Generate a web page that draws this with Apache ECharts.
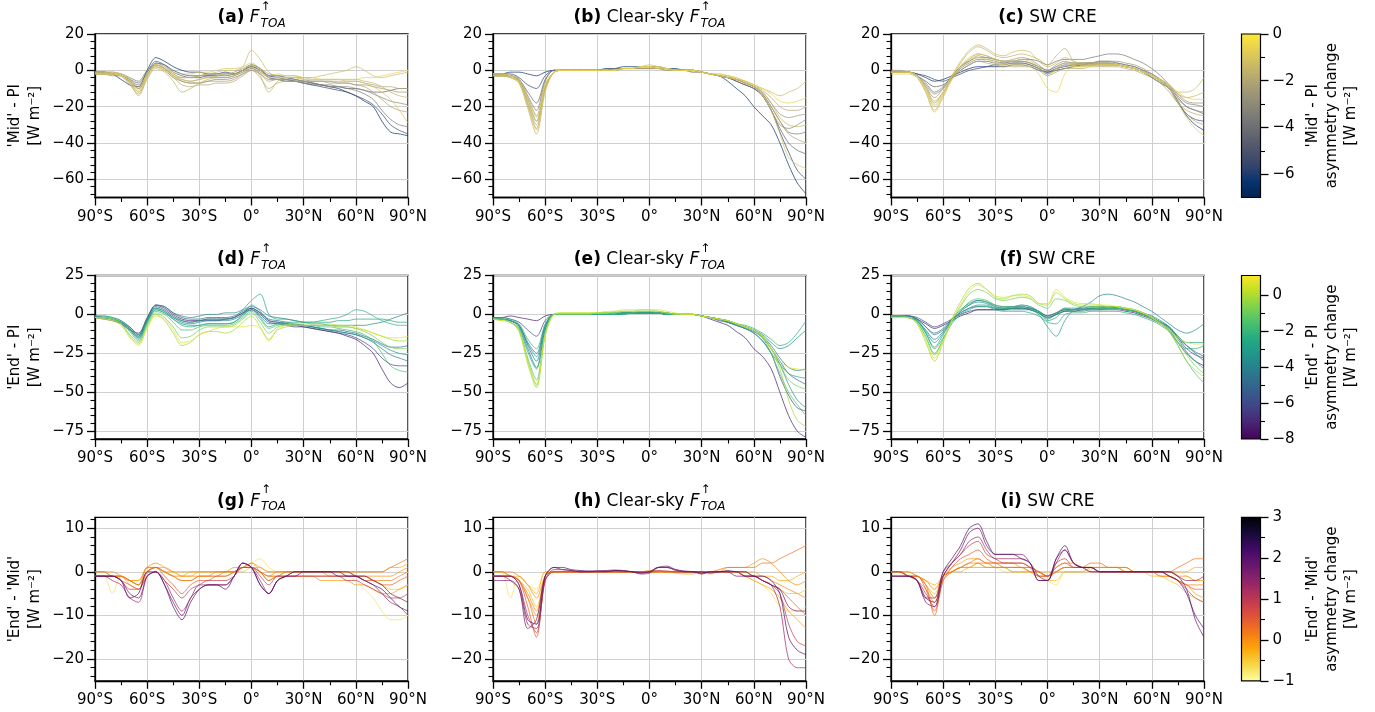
<!DOCTYPE html>
<html><head><meta charset="utf-8">
<script src="https://cdn.jsdelivr.net/npm/echarts@6/dist/echarts.min.js"></script>
<style>html,body{margin:0;padding:0;background:#fff}#c{width:1375px;height:712px}</style>
</head><body><div id="c"></div>
<script>
// ---------------- DATA ----------------
const LAT = [-90,-85,-80,-75,-70,-65,-60,-55,-50,-45,-40,-35,-30,-25,-20,-15,-10,-5,0,5,10,15,20,25,30,35,40,45,50,55,60,65,70,75,80,85,90];
const LAT_TICKS = [-90,-60,-30,0,30,60,90];

// asymmetry change of each model (colour value), one list per row
const ASYM_MID_PI  = [-6.3,-5.5,-4.4,-3.6,-3.0,-2.6,-2.2,-1.9,-1.6,-1.3,-1.0,-0.6];
const ASYM_END_PI  = [-7.2,-6.0,-5.0,-4.3,-3.7,-3.2,-2.7,-2.2,-1.6,-0.9,-0.2,0.6];
const ASYM_END_MID = [2.0,1.7,1.3,0.9,0.5,0.25,0.1,0.0,-0.1,-0.25,-0.4,-0.7];

// y tick labels per row
const YTICKS_ROW1 = [-60,-40,-20,0,20];
const YTICKS_ROW2 = [-75,-50,-25,0,25];
const YTICKS_ROW3 = [-20,-10,0,10];
const CB_TICKS_ROW1 = [-6,-4,-2,0];
const CB_TICKS_ROW2 = [-8,-6,-4,-2,0];
const CB_TICKS_ROW3 = [-1,0,1,2,3];

// (a) 'Mid' - PI, F TOA
const A_TOA = [
[-1,-1,-2,-5,-8,-9, 0,7,5,2,0,-1, -1,-2,-2,-1,-2,0, 3, 1,-3,-3,-4,-5,-6, -7,-8,-9,-10,-12,-14, -17,-20,-28,-34,-35,-36],
[-1,-1,-2,-3,-6,-10, -3,4,3,0,-2,-3, -3,-3,-3,-2,-2,0, 2, 0,-3,-4,-5,-6,-7, -8,-9,-10,-11,-12,-14, -16,-19,-24,-30,-33,-35],
[-2,-2,-2,-3,-5,-7, -1,5,3,-1,-3,-4, -4,-3,-3,-3,-2,0, 2, 0,-4,-5,-6,-6,-7, -8,-8,-9,-9,-10,-10, -11,-12,-12,-11,-10,-10],
[-1,-1,-1,-2,-4,-6, 0,3,1,-3,-5,-6, -5,-4,-4,-4,-3,-1, 1, -1,-4,-5,-5,-6,-6, -7,-8,-8,-9,-10,-11, -13,-16,-22,-27,-30,-31],
[-2,-2,-3,-3,-6,-8, -2,2,0,-4,-6,-7, -7,-6,-5,-5,-4,-2, 0, -2,-5,-5,-6,-6,-7, -7,-8,-9,-9,-9,-10, -11,-13,-15,-17,-18,-19],
[-1,-1,-2,-2,-5,-9, -2,4,2,-2,-4,-4, -3,-2,-2,-2,-1,1, 3, 1,-2,-3,-4,-4,-5, -6,-6,-6,-7,-7,-8, -8,-9,-10,-11,-12,-12],
[-1,-1,-2,-3,-7,-12, -3,3,1,-3,-6,-7, -7,-6,-6,-6,-5,-2, 1, -2,-6,-5,-5,-5,-6, -6,-6,-7,-7,-7,-8, -9,-12,-16,-20,-22,-23],
[-2,-2,-2,-3,-8,-13, -4,2,0,-4,-8,-9, -8,-8,-7,-7,-6,-3, 0, -4,-10,-7,-6,-6,-6, -6,-6,-6,-6,-6,-6, -7,-8,-9,-9,-10,-10],
[-1,-1,-2,-3,-7,-14, -5,1,-1,-6,-12,-10, -7,-5,-4,-4,-3,-1, 2, -3,-12,-6,-4,-4,-4, -5,-5,-5,-5,-5,-5, -6,-7,-9,-12,-14,-15],
[-2,-2,-2,-3,-6,-11, -3,3,1,-2,-4,-4, -3,-2,-1,0,0,2, 11, 6,-1,-3,-3,-3,-4, -4,-3,-2,-1,0,2, 0,-3,-4,-3,-2,-1],
[-1,-1,-1,-2,-5,-10, -2,3,2,-1,-2,-2, -1,-1,0,1,1,2, 4, 1,-3,-2,-3,-3,-4, -4,-5,-5,-5,-6,-6, -7,-9,-12,-16,-22,-29],
[-2,-2,-2,-3,-6,-12, -3,2,0,-3,-5,-6, -5,-4,-3,-2,-2,0, 3, 0,-4,-4,-4,-4,-5, -5,-5,-5,-5,-5,-5, -4,-4,-3,-2,-1,0]
];
// (b) 'Mid' - PI, clear-sky
const B_CLR = [
[-2,-2,-1,-1,-2,-3, -1,0,0,0,0,0, 0,1,1,2,2,2, 2, 2,1,1,0,0,-1, -2,-3,-6,-10,-14,-20, -25,-30,-40,-52,-62,-68],
[-2,-2,-2,-4,-8,-10, -3,0,0,0,0,0, 0,0,1,1,1,1, 1, 1,1,0,0,0,-1, -2,-3,-4,-6,-8,-10, -14,-22,-34,-45,-55,-60],
[-3,-3,-3,-5,-12,-18, -5,0,0,0,0,0, 0,0,0,1,1,1, 1, 1,1,0,0,0,-1, -2,-3,-4,-6,-8,-10, -14,-22,-32,-40,-44,-46],
[-2,-2,-3,-5,-14,-22, -6,0,0,0,0,0, 0,0,1,1,1,1, 1, 1,1,0,0,0,-1, -2,-3,-4,-5,-7,-9, -13,-20,-28,-34,-35,-34],
[-3,-3,-3,-6,-15,-25, -8,-1,0,0,0,0, 0,0,0,1,1,1, 1, 1,1,0,0,-1,-1, -2,-3,-4,-5,-7,-9, -14,-22,-30,-32,-30,-27],
[-2,-2,-3,-5,-16,-28, -9,-1,0,0,0,0, 0,0,0,1,1,1, 1, 1,0,0,0,-1,-1, -2,-3,-4,-5,-7,-9, -12,-18,-24,-26,-25,-24],
[-3,-3,-4,-6,-19,-32, -10,-1,0,0,0,0, 0,0,0,1,1,1, 1, 1,0,0,0,0,-1, -2,-3,-4,-5,-7,-9, -13,-20,-28,-35,-38,-40],
[-2,-2,-3,-6,-18,-30, -10,-1,0,0,0,0, 0,0,0,1,1,2, 2, 1,1,0,0,0,-1, -2,-3,-4,-5,-6,-8, -11,-15,-20,-22,-22,-20],
[-3,-3,-4,-7,-21,-35, -12,-1,0,0,0,0, 0,0,0,1,1,2, 2, 1,1,0,0,0,-1, -2,-3,-3,-5,-6,-8, -12,-18,-26,-30,-31,-30],
[-2,-2,-3,-6,-17,-28, -8,-1,0,0,0,0, 0,0,0,1,1,2, 3, 2,1,0,0,0,-1, -2,-2,-3,-4,-6,-8, -10,-12,-14,-12,-10,-6],
[-3,-3,-4,-7,-20,-33, -11,-1,0,0,0,0, 0,0,0,1,1,2, 2, 1,1,0,0,0,-1, -2,-3,-4,-5,-7,-9, -14,-22,-35,-48,-52,-54],
[-2,-2,-3,-5,-15,-26, -8,-1,0,0,0,0, 0,0,0,1,1,2, 2, 2,1,0,0,0,-1, -2,-2,-3,-4,-6,-8, -10,-13,-17,-18,-17,-15]
];
// (c) 'Mid' - PI, SW CRE
const C_CRE = [
[-1,-1,-1,-2,-4,-6, -5,-3,-1,1,2,2, 2,2,3,3,2,0, -1, 0,1,2,3,3,3, 3,3,2,1,-1,-4, -7,-10,-17,-25,-30,-33],
[-1,-1,-1,-2,-3,-5, -6,-4,-2,0,1,2, 3,3,4,4,3,1, -1, 1,2,3,3,4,4, 4,3,2,1,-1,-3, -6,-10,-18,-24,-27,-28],
[-1,-1,-1,-3,-6,-9, -8,-4,0,3,5,5, 4,4,5,5,4,2, 0, 2,4,4,4,4,5, 5,4,3,2,0,-2, -5,-9,-15,-20,-22,-24],
[-1,-1,-1,-3,-7,-12, -9,-3,2,5,7,7, 6,5,5,6,6,5, 3, 5,6,6,6,7,8, 9,9,8,6,4,1, -3,-8,-14,-18,-19,-20],
[-1,-1,-1,-3,-8,-13, -10,-4,1,4,6,6, 5,4,4,4,3,1, -2, 1,3,3,4,4,4, 4,4,3,2,0,-3, -6,-10,-16,-20,-22,-23],
[0,0,-1,-3,-9,-15, -10,-3,2,5,8,7, 6,5,6,7,6,3, 0, 3,5,4,4,4,5, 5,5,4,3,1,-2, -5,-8,-13,-17,-18,-18],
[-1,-1,-1,-3,-10,-18, -12,-4,2,6,9,8, 6,5,5,5,4,2, -2, 0,3,2,2,3,3, 3,3,2,1,-1,-3, -6,-10,-17,-24,-28,-30],
[-1,-1,-1,-3,-9,-17, -12,-5,0,3,5,4, 3,2,2,2,2,0, -3, -1,1,1,1,2,2, 2,2,1,0,-2,-4, -7,-12,-18,-22,-24,-25],
[-1,-1,-1,-4,-12,-22, -14,-4,4,10,13,11, 8,7,8,9,8,6, 3, 8,12,5,3,3,3, 3,3,2,1,-1,-3, -6,-9,-13,-15,-14,-12],
[-1,-1,-1,-3,-11,-20, -13,-3,5,11,14,12, 9,8,10,11,10,5, 2, 4,7,5,4,4,4, 4,3,2,1,-1,-3, -6,-9,-12,-12,-10,-4],
[-2,-2,-2,-4,-12,-23, -15,-5,2,7,9,8, 6,5,5,6,5,2, -3, 1,4,3,3,3,3, 3,3,2,1,-1,-3, -6,-10,-18,-26,-32,-36],
[-1,-1,-1,-3,-10,-19, -12,-3,3,6,7,6, 4,3,3,3,2,-2, -10, -12,-2,2,2,2,3, 3,3,2,1,-1,-3, -5,-8,-12,-15,-16,-16]
];
// (d) 'End' - PI, F TOA
const D_TOA = [
[-2,-3,-4,-6,-10,-12, -2,6,4,0,-3,-4, -4,-3,-3,-3,-2,1, 4, 1,-4,-5,-6,-7,-8, -9,-10,-11,-12,-14,-16, -20,-25,-35,-44,-47,-44],
[-2,-2,-3,-5,-9,-14, -3,5,3,-1,-4,-5, -4,-4,-4,-3,-2,1, 3, 0,-5,-6,-7,-8,-8, -9,-10,-11,-12,-13,-15, -18,-22,-28,-32,-33,-33],
[-1,-2,-3,-5,-8,-13, -3,6,5,1,-2,-3, -3,-2,-2,-2,-1,2, 4, 1,-3,-4,-5,-6,-7, -8,-9,-10,-10,-11,-12, -14,-16,-19,-21,-21,-20],
[-2,-2,-3,-6,-10,-15, -4,4,2,-2,-5,-6, -5,-4,-4,-4,-3,0, 3, -1,-6,-6,-6,-7,-7, -8,-9,-10,-11,-12,-13, -15,-18,-22,-26,-28,-30],
[-1,-1,-2,-4,-8,-13, -3,6,5,1,-1,-2, -1,0,0,1,1,3, 5, 3,-1,-2,-3,-4,-5, -6,-6,-7,-7,-7,-7, -7,-6,-5,-3,-1,1],
[-2,-2,-3,-5,-10,-16, -5,3,1,-3,-6,-7, -7,-6,-6,-6,-5,0, 6, 2,-4,-5,-6,-7,-7, -8,-9,-10,-11,-12,-13, -15,-17,-20,-23,-25,-26],
[-1,-2,-3,-5,-9,-14, -4,4,2,-2,-4,-5, -4,-3,-3,-3,-2,3, 9, 13,0,-3,-3,-4,-5, -5,-5,-5,-4,-4,-3, -3,-3,-3,-4,-5,-5],
[-1,-1,-2,-4,-9,-15, -5,3,1,-3,-7,-8, -7,-6,-6,-6,-5,-1, 3, -2,-8,-6,-5,-5,-5, -5,-4,-3,-2,0,3, 2,-1,-4,-6,-7,-7],
[-2,-2,-3,-5,-11,-17, -6,2,0,-5,-10,-10, -8,-7,-7,-7,-6,-2, 2, -3,-9,-7,-6,-6,-7, -7,-8,-8,-9,-10,-11, -13,-17,-25,-33,-36,-37],
[-2,-2,-3,-6,-13,-18, -7,1,-2,-8,-15,-14, -10,-8,-8,-8,-7,-3, 1, -5,-12,-8,-7,-7,-7, -7,-7,-7,-8,-8,-9, -11,-14,-18,-21,-22,-22],
[-2,-2,-3,-6,-14,-19, -8,0,-4,-12,-20,-18, -13,-11,-11,-12,-10,-5, -1, -8,-16,-10,-8,-7,-7, -7,-7,-7,-8,-8,-9, -10,-12,-14,-16,-17,-17],
[-2,-3,-4,-7,-15,-20, -9,-1,-3,-10,-18,-17, -13,-11,-9,-8,-8,-8, -7, -9,-17,-9,-7,-6,-6, -6,-6,-6,-7,-7,-8, -10,-12,-14,-15,-15,-14]
];
// (e) 'End' - PI, clear-sky
const E_CLR = [
[-2,-2,-1,-2,-3,-4, -1,0,0,0,0,0, 0,0,0,1,1,1, 1, 1,1,0,0,0,-1, -3,-5,-7,-11,-15,-22, -27,-35,-50,-65,-75,-79],
[-2,-2,-3,-5,-10,-14, -4,0,0,0,0,0, 0,0,0,1,1,1, 1, 1,0,0,0,0,-1, -2,-4,-5,-7,-9,-12, -17,-25,-40,-52,-60,-62],
[-3,-3,-4,-7,-18,-25, -7,0,0,0,0,0, 0,0,0,1,1,1, 1, 1,0,0,0,0,-1, -2,-3,-5,-7,-9,-11, -15,-22,-30,-38,-42,-45],
[-2,-3,-4,-7,-20,-30, -8,0,0,0,0,0, 0,0,0,0,1,1, 1, 1,0,0,0,0,-1, -2,-3,-5,-6,-8,-10, -14,-20,-28,-34,-36,-35],
[-3,-3,-4,-8,-22,-34, -10,0,0,0,0,0, 0,0,1,1,1,1, 1, 1,0,0,0,0,-1, -2,-3,-4,-6,-8,-10, -13,-18,-22,-20,-15,-10],
[-2,-3,-4,-7,-19,-27, -8,0,0,0,0,0, 0,0,0,1,1,1, 1, 1,0,0,0,0,-1, -2,-3,-4,-6,-8,-10, -14,-22,-32,-45,-55,-60],
[-3,-3,-5,-9,-24,-35, -10,0,0,0,0,0, 0,0,0,1,1,1, 1, 1,0,0,0,0,-1, -2,-3,-5,-7,-9,-12, -17,-25,-32,-38,-40,-41],
[-2,-2,-3,-6,-16,-22, -6,0,0,0,0,0, 0,0,0,0,1,1, 1, 1,0,0,0,0,-1, -2,-3,-4,-6,-7,-9, -12,-16,-20,-18,-12,-4],
[-3,-3,-5,-10,-28,-42, -12,0,0,0,0,0, 1,1,1,1,1,2, 2, 1,1,0,0,0,-1, -2,-3,-4,-6,-8,-10, -15,-25,-38,-50,-58,-65],
[-3,-3,-5,-10,-30,-45, -13,0,0,0,0,0, 1,1,1,2,2,2, 2, 2,1,0,0,0,-1, -2,-3,-4,-6,-8,-10, -14,-22,-32,-42,-46,-48],
[-3,-4,-5,-11,-32,-47, -14,0,1,1,1,1, 1,1,2,2,2,3, 3, 2,1,0,0,0,-1, -2,-3,-4,-6,-8,-10, -14,-22,-35,-55,-68,-72],
[-3,-4,-5,-10,-30,-46, -13,0,1,1,1,1, 1,2,2,3,3,3, 3, 3,2,1,0,0,-1, -2,-3,-4,-6,-8,-10, -14,-22,-30,-34,-35,-36]
];
// (f) 'End' - PI, SW CRE
const F_CRE = [
[-1,-1,-1,-3,-6,-9, -7,-4,-1,1,3,3, 3,3,4,4,3,1, -2, 0,2,2,3,3,3, 3,3,2,1,-1,-3, -6,-10,-18,-25,-30,-33],
[-1,-1,-1,-2,-5,-8, -6,-3,0,2,3,3, 3,3,4,4,4,2, -1, 1,3,3,3,4,4, 4,4,3,2,0,-2, -5,-8,-15,-22,-26,-28],
[-1,-1,-1,-3,-8,-12, -9,-3,1,4,5,5, 4,4,5,5,4,2, -1, 1,3,3,4,4,4, 5,4,3,2,0,-2, -5,-9,-15,-20,-24,-27],
[-1,-1,-2,-4,-10,-16, -11,-3,3,7,9,8, 6,5,5,6,5,2, -3, 0,4,4,4,5,5, 5,5,4,3,1,-1, -4,-8,-14,-20,-25,-30],
[-1,-1,-1,-3,-8,-13, -10,-4,1,4,6,6, 4,3,3,3,3,1, -2, 0,2,3,5,8,12, 13,12,10,8,5,2, -2,-6,-10,-12,-10,-6],
[-1,-1,-2,-4,-11,-18, -12,-4,2,6,8,7, 5,4,4,4,3,0, -8, -14,-4,2,2,3,3, 4,4,3,2,0,-2, -5,-9,-16,-24,-30,-35],
[-1,-1,-2,-4,-12,-21, -13,-4,2,6,9,8, 5,4,4,5,4,1, -4, -2,3,3,3,4,4, 4,4,3,2,0,-2, -5,-8,-14,-18,-18,-18],
[-1,-1,-2,-4,-12,-22, -15,-6,0,3,5,5, 3,2,2,2,1,-1, -5, -6,0,1,1,2,2, 2,2,1,0,-2,-4, -7,-11,-18,-22,-22,-20],
[-1,-1,-2,-5,-14,-25, -16,-5,2,8,10,9, 6,5,5,6,5,2, -2, 1,4,3,3,3,4, 4,4,3,2,0,-3, -6,-11,-20,-30,-38,-44],
[-1,-1,-2,-5,-15,-26, -16,-4,5,13,16,14, 10,9,10,11,10,6, 4, 10,9,6,5,5,5, 5,5,4,3,1,-2, -5,-10,-18,-26,-33,-38],
[-2,-2,-2,-6,-18,-30, -18,-3,8,17,20,16, 11,10,12,13,12,7, 6, 14,10,7,6,6,6, 5,5,4,3,1,-2, -6,-11,-20,-30,-36,-40],
[-2,-2,-2,-6,-17,-28, -17,-4,6,15,19,16, 12,11,12,12,11,7, 7, 16,11,8,7,7,6, 6,5,4,3,1,-2, -6,-10,-15,-18,-19,-19]
];
// (g) 'End' - 'Mid', F TOA
const G_TOA = [
[-1,-1,-1,-2,-6,-5, 0,0,-3,-8,-11,-7, -4,-3,-3,-4,-1,2, 1, -3,-5,-2,-1,0,0, 0,0,0,-1,-1,-1, -2,-3,-4,-6,-8,-9],
[-1,-1,-1,-2,-5,-6, -1,0,-3,-7,-10,-6, -4,-3,-3,-3,-1,2, 1, -3,-5,-2,-1,-1,0, 0,0,0,0,-1,-1, -1,-2,-3,-5,-6,-7],
[-1,-1,-2,-3,-6,-7, -1,0,-2,-6,-9,-6, -3,-3,-3,-3,-1,2, 1, -2,-5,-2,-1,0,0, 0,0,0,0,0,-1, -2,-3,-5,-7,-8,-10],
[-1,-1,-1,-2,-4,-4, -1,0,-2,-4,-6,-4, -3,-2,-2,-2,-1,1, 1, -1,-3,-1,-1,-1,-1, -1,-1,-1,-1,-2,-2, -3,-4,-5,-6,-6,-5],
[-1,-1,-1,-2,-3,-4, 0,1,-1,-3,-5,-3, -2,-2,-1,-1,0,1, 1, 0,-2,-1,-1,-1,-1, -1,-1,-1,-1,-1,-1, -2,-2,-3,-3,-2,-1],
[0,0,-1,-1,-2,-3, 1,1,0,-1,-2,-2, -1,-1,-1,0,0,1, 1, 0,-1,-1,0,0,0, 0,0,0,0,0,0, 0,0,0,1,2,3],
[-1,-1,-1,-1,-2,-3, 0,1,0,-1,-1,-1, -1,-1,0,0,0,1, 1, 0,-1,0,0,0,0, 0,0,-1,-1,-1,-1, -1,-2,-2,-2,-1,0],
[0,0,0,-1,-2,-2, 1,2,1,0,0,0, 0,0,0,0,1,1, 2, 1,0,0,0,0,0, 0,0,0,0,0,-1, -1,-1,-1,-1,0,1],
[-1,-1,-1,-1,-3,-4, 0,1,0,-1,-2,-2, -1,-1,-1,-1,0,1, 2, 0,-2,-1,-1,-1,-1, -1,-2,-2,-2,-2,-3, -3,-4,-5,-5,-4,-3],
[0,0,-1,-1,-2,-3, 0,1,1,0,-1,-1, 0,0,0,0,0,1, 1, 0,-1,-1,0,0,0, 0,0,0,0,0,0, 0,0,0,1,1,2],
[-1,-1,-1,-1,-2,-2, 1,1,0,0,-1,0, 0,0,0,0,0,0, 1, 1,0,0,0,0,0, 0,0,0,0,0,-1, -1,-2,-3,-4,-4,-3],
[-1,-1,-5,-1,-2,-3, 0,1,0,0,-1,0, 0,0,0,0,0,1, 2, 3,1,0,0,0,0, 0,0,0,0,-1,-2, -4,-6,-9,-11,-11,-10]
];
// (h) 'End' - 'Mid', clear-sky
const H_CLR = [
[-1,-1,-1,-3,-11,-12, -1,1,1,0.5,0.3,0.2, 0.2,0.1,0.3,0.2,0,-0.3, 0, 1,1,0.5,0.2,0,-0.3, 0,0,0.3,0,0,-1, -1,-2,-5,-15,-18,-19],
[-2,-2,-2,-4,-13,-11, -1,1,0.5,0.3,0,0, 0.2,0.3,0.4,0.3,0,-0.5, -0.3, 1,1.3,0.5,0,0,0, -0.3,0,0,-1,-1,-1, -2,-3,-4,-8,-9,-9],
[-1,-1,-2,-4,-12,-13, -2,0.5,0.5,0.3,0,0, 0,0,0.3,0.2,0,-0.2, 0, 1,1,0.3,0,0,-0.5, 0,0,0,0,-1,-1, -2,-3,-8,-20,-22,-22],
[-1,-1,-1,-3,-10,-14, -2,0,0,0,0,0, 0,0,0,0,0,0, 0, 0.3,0.2,0,0,0,0, 0,0,0,0,-1,-1, -2,-3,-5,-12,-16,-17],
[-1,-1,-1,-2,-8,-15, -2,0,0,0,0,0, 0,0,0,0,0,0, 0, 0,0,0,0,0,-0.3, 0,0,0,0,-1,-1, -2,-3,-4,-6,-8,-10],
[0,0,-1,-2,-6,-12, -1,0,0,0,0,0, 0,0,0,0,0,0, 0, 0,0,0,0,0,0, 0,0.5,1,1,1,1, 2,2,3,4,5,6],
[-1,-1,-1,-2,-5,-9, -1,0,0,0,0,0, 0,0,0,0,0,0, 0.3, 0.2,0,0,0,0,-0.5, 0,0,0,0,0,-1, -1,-2,-3,-4,-5,-6],
[0,0,0,-1,-3,-6, -1,0,0,0,0,0, 0,0,0,0,0,0, 0, 0,0,0,0,0,0, 0,0,1,1,1,2, 3,2,0,-2,-3,-2],
[-1,-1,-1,-2,-6,-10, -1,0,0,0,0,0, 0,0,0,0,0,0, 0, 0,0,0,0,0,0, -0.5,0,0,0,-1,-2, -3,-4,-6,-9,-11,-13],
[0,0,-1,-1,-3,-5, 0,0,0,0,0,0, 0,0,0,0,0,-0.3, 0, 0,0,-0.3,-0.5,-0.5,0, 0,0,0,0,0,0, -1,-1,-2,-2,-1,0],
[-1,-1,-1,-2,-4,-8, -1,0,0,0,0,0, 0,0,0,0,0,0, 0, 0,0,0,0,0,0, 0,0,0,0,0,-1, -2,-3,-4,-5,-5,-4],
[0,0,-6,-1,-3,-4, 0,0,0,0,0,0, 0,0,0,0,0,0, 0, 0,0,0,0,0,0, 0,0,0,0,-1,-2, -3,-5,-8,-9,-9,-8]
];
// (i) 'End' - 'Mid', SW CRE
const I_CRE = [
[-1,-1,-1,-2,-6,-7, 0,3,6,10,11,7, 4,4,4,3,2,-2, -2, 3,6,2,1,1,0, 0,0,0,0,0,0, 0,-1,-2,-5,-10,-13],
[-1,-1,-1,-2,-7,-8, -1,2,5,9,10,6, 4,4,4,4,2,-2, -2, 3,5,2,1,1,0, 0,0,0,0,0,0, 0,0,-1,-4,-11,-15],
[-1,-1,-1,-2,-6,-6, 0,2,4,7,8,5, 3,3,3,3,2,-1, -2, 2,5,2,1,0,0, 0,0,0,0,0,0, 0,0,-1,-2,-2,-1],
[0,0,-1,-2,-5,-8, -1,2,4,6,7,4, 3,2,2,2,1,-1, -1, 2,3,1,1,0,0, 0,0,0,0,0,0, 0,-1,-2,-4,-6,-7],
[0,0,-1,-1,-4,-9, -2,1,3,4,5,3, 2,2,2,2,1,0, -1, 1,2,1,1,1,0, 0,0,0,0,0,0, 0,-1,-2,-3,-4,-4],
[0,0,-1,-1,-3,-10, -2,0,1,2,3,2, 2,1,1,1,1,0, -1, 0,1,1,1,2,2, 1,1,1,0,0,0, 0,0,1,2,3,3],
[0,0,-1,-1,-3,-6, -1,0,1,2,2,2, 1,1,1,1,0,-1, -1, 0,1,1,1,1,1, 1,1,0,0,0,0, -1,-1,-2,-3,-3,-3],
[0,0,0,-1,-2,-4, -1,0,1,1,2,1, 1,1,1,1,0,0, -1, 0,1,1,1,1,0, 0,0,0,0,0,0, 0,0,-1,-1,-2,-2],
[0,0,-1,-2,-4,-7, -1,1,2,3,3,2, 2,2,2,1,1,0, -1, 1,2,2,1,1,1, 1,1,1,0,0,0, -1,-1,-2,-3,-5,-6],
[0,0,0,-1,-2,-3, -1,0,0,1,1,1, 1,1,0,0,0,0, 0, 0,0,0,0,1,1, 1,1,0,0,0,0, 0,0,0,0,1,1],
[0,0,-1,-1,-3,-5, -1,0,1,1,2,1, 1,1,0,0,0,-1, -2, -2,0,0,0,0,0, 0,0,0,0,0,-1, -1,-2,-3,-5,-6,-7],
[0,0,0,-1,-2,-4, -1,0,1,1,1,1, 1,0,0,0,0,0, -2, -3,0,0,0,1,1, 1,1,1,0,0,0, 0,0,0,-1,-2,-2]
];

// ---------------- COLORMAPS ----------------
const CIVIDIS = ['#00224e','#083370','#35456c','#4f556c','#666970','#7d7c78','#948f78','#aea373','#c8b866','#e5cf52','#fee838'];
const VIRIDIS = ['#440154','#482475','#414487','#355f8d','#2a788e','#21918c','#22a884','#44bf70','#7ad151','#bddf26','#fde725'];
const INFERNO = ['#000004','#160b39','#420a68','#6a176e','#932667','#bc3754','#dd513a','#f37819','#fca50a','#f6d746','#fcffa4'];
function hx(h){return [parseInt(h.slice(1,3),16),parseInt(h.slice(3,5),16),parseInt(h.slice(5,7),16)];}
function cmap(stops,t){
  t=Math.max(0,Math.min(1,t));
  const p=t*(stops.length-1), i=Math.min(Math.floor(p),stops.length-2), f=p-i;
  const a=hx(stops[i]), b=hx(stops[i+1]);
  return 'rgb('+a.map((v,k)=>Math.round(v+(b[k]-v)*f)).join(',')+')';
}

// ---------------- LAYOUT ----------------
const FONT='DejaVu Sans';
const COL_LEFT=[95,493,891], PW=313, PH=163.5;
const CB_LEFT=1241.5, CB_W=19;
const ROWS=[
 {top:34, min:-70, max:20, ticks:YTICKS_ROW1, minorStep:4, asym:ASYM_MID_PI, cm:CIVIDIS, vmin:-7, vmax:0, rev:false,
  cbTicks:CB_TICKS_ROW1, cbMinor:[-5,-3,-1], lab:"'Mid' - PI", panels:[A_TOA,B_CLR,C_CRE], letters:['(a)','(b)','(c)']},
 {top:275.5, min:-80, max:25, ticks:YTICKS_ROW2, minorStep:5, asym:ASYM_END_PI, cm:VIRIDIS, vmin:-8, vmax:1.07, rev:false,
  cbTicks:CB_TICKS_ROW2, cbMinor:[-7,-5,-3,-1], lab:"'End' - PI", panels:[D_TOA,E_CLR,F_CRE], letters:['(d)','(e)','(f)']},
 {top:517.3, min:-25, max:12.5, ticks:YTICKS_ROW3, minorStep:2, asym:ASYM_END_MID, cm:INFERNO, vmin:-1, vmax:3, rev:true,
  cbTicks:CB_TICKS_ROW3, cbMinor:[-0.5,0.5,1.5,2.5], lab:"'End' - 'Mid'", panels:[G_TOA,H_CLR,I_CRE], letters:['(g)','(h)','(i)']}
];
const NAMES=['','Clear-sky','SW CRE'];
const HASF=[true,true,false];

const numFmt=v=>(v<0?'\u2212':'')+Math.abs(v);
const latFmt=v=>v===0?'0°':Math.abs(v)+'°'+(v<0?'S':'N');
function colorOf(row,v){let t=(v-row.vmin)/(row.vmax-row.vmin); if(row.rev)t=1-t; return cmap(row.cm,t);}

const grids=[],xAxes=[],yAxes=[],series=[],graphics=[];
const tickLine={color:'#000',width:1.3};
const lblStyle={color:'#000',fontSize:15,fontFamily:FONT};

const cv=document.createElement('canvas').getContext('2d');
function tw(t,f){cv.font=f;return cv.measureText(t).width;}

ROWS.forEach((row,r)=>{
  const minors=[];
  for(let v=Math.ceil(row.min/row.minorStep)*row.minorStep; v<=row.max+1e-9; v+=row.minorStep){
    if(!row.ticks.some(t=>Math.abs(t-v)<1e-9)) minors.push(+v.toFixed(3));
  }
  const order=row.asym.map((v,i)=>i).sort((a,b)=>row.asym[a]-row.asym[b]);
  for(let c=0;c<3;c++){
    const gi=grids.length;
    grids.push({left:COL_LEFT[c],top:row.top,width:PW,height:PH,show:true,borderColor:'#000',borderWidth:1.3,backgroundColor:'rgba(0,0,0,0)'});
    xAxes.push({gridIndex:gi,type:'value',min:-90,max:90,interval:30,
      axisLine:{show:true,onZero:false,lineStyle:tickLine},
      axisTick:{show:true,length:8,lineStyle:tickLine},
      minorTick:{show:true,splitNumber:2,length:4.5,lineStyle:{color:'#000',width:1.1}},
      axisLabel:Object.assign({formatter:latFmt,margin:12,showMinLabel:true,showMaxLabel:true,hideOverlap:false},lblStyle),
      splitLine:{show:true,lineStyle:{color:'#cfcfcf',width:1}}});
    const yi=yAxes.length;
    yAxes.push({gridIndex:gi,type:'value',min:row.min,max:row.max,position:'left',
      axisLine:{show:true,onZero:false,lineStyle:tickLine},
      axisTick:{show:true,length:8,customValues:row.ticks,lineStyle:tickLine},
      axisLabel:Object.assign({formatter:numFmt,margin:11,customValues:row.ticks},lblStyle),
      splitLine:{show:true,lineStyle:{color:'#cfcfcf',width:1}}});
    yAxes.push({gridIndex:gi,type:'value',min:row.min,max:row.max,position:'left',
      axisLine:{show:false,onZero:false},axisLabel:{show:false},splitLine:{show:false},
      axisTick:{show:true,length:4.5,customValues:minors,lineStyle:{color:'#000',width:1.1}}});
    const data=row.panels[c];
    order.forEach(m=>{
      series.push({type:'line',xAxisIndex:gi,yAxisIndex:yi,smooth:0.3,symbol:'none',silent:true,
        lineStyle:{width:0.9,color:colorOf(row,row.asym[m]),opacity:0.8},
        data:LAT.map((la,k)=>[la,data[m][k]])});
    });
    // title
    const cx=COL_LEFT[c]+PW/2, cy=row.top-16, FS=17, SUB=12;
    const fB=`bold ${FS}px "${FONT}"`, fN=`${FS}px "${FONT}"`, fI=`italic ${FS}px "${FONT}"`, fSI=`italic ${SUB}px "${FONT}"`, fS=`${SUB}px "${FONT}"`;
    const wL=tw(row.letters[c],fB), wSp=tw(' ',fN);
    const nm=NAMES[c]; const wN=nm?tw(nm,fN)+(HASF[c]?wSp:0):0;
    const wF=HASF[c]?tw('F',fI):0;
    const wS=HASF[c]?Math.max(tw('TOA',fSI),tw('\u2191',fS))+1:0;
    let x=cx-(wL+wSp+wN+wF+wS)/2;
    const txt=(t,xx,yy,size,weight,style)=>graphics.push({type:'text',x:xx,y:yy,silent:true,
      style:{text:t,fontSize:size,fontFamily:FONT,fontWeight:weight,fontStyle:style,fill:'#000',align:'left',verticalAlign:'middle'}});
    txt(row.letters[c],x,cy,FS,'bold','normal'); x+=wL+wSp;
    if(nm){txt(nm,x,cy,FS,'normal','normal'); x+=wN;}
    if(HASF[c]){
      txt('F',x,cy,FS,'normal','italic'); x+=wF;
      txt('\u2191',x+1,cy-11,SUB,'normal','normal');
      txt('TOA',x+1,cy+6,SUB,'normal','italic');
    }
  }
  // left y label
  graphics.push({type:'text',x:25,y:row.top+PH/2,rotation:Math.PI/2,silent:true,
    style:{text:row.lab+'\n[W m\u207B\u00B2]',fontSize:15,fontFamily:FONT,fill:'#000',align:'center',verticalAlign:'middle',lineHeight:20}});
  // colorbar
  const gi=grids.length;
  grids.push({left:CB_LEFT,top:row.top,width:CB_W,height:PH,show:false});
  xAxes.push({gridIndex:gi,type:'value',show:false,min:0,max:1});
  yAxes.push({gridIndex:gi,type:'value',min:row.vmin,max:row.vmax,position:'right',
    axisLine:{show:false,onZero:false},splitLine:{show:false},
    axisTick:{show:true,length:8,customValues:row.cbTicks,lineStyle:tickLine},
    axisLabel:Object.assign({formatter:numFmt,margin:12,customValues:row.cbTicks},lblStyle)});
  yAxes.push({gridIndex:gi,type:'value',min:row.vmin,max:row.vmax,position:'right',
    axisLine:{show:false,onZero:false},splitLine:{show:false},axisLabel:{show:false},
    axisTick:{show:true,length:4.5,customValues:row.cbMinor,lineStyle:{color:'#000',width:1.1}}});
  const stops=[];
  for(let k=0;k<=40;k++){const o=k/40; const v=row.vmax-o*(row.vmax-row.vmin); stops.push({offset:o,color:colorOf(row,v)});}
  graphics.push({type:'rect',z:5,silent:true,shape:{x:CB_LEFT,y:row.top,width:CB_W,height:PH},
    style:{fill:new echarts.graphic.LinearGradient(0,0,0,1,stops),stroke:'#000',lineWidth:1.2}});
  graphics.push({type:'text',x:1332,y:row.top+PH/2,rotation:Math.PI/2,silent:true,
    style:{text:row.lab+'\nasymmetry change\n[W m\u207B\u00B2]',fontSize:15,fontFamily:FONT,fill:'#000',align:'center',verticalAlign:'middle',lineHeight:19}});
});

const chart=echarts.init(document.getElementById('c'),null,{renderer:'canvas'});
chart.setOption({animation:false,backgroundColor:'#fff',textStyle:{fontFamily:FONT},
  grid:grids,xAxis:xAxes,yAxis:yAxes,series:series,graphic:{elements:graphics}});
</script>
</body></html>
